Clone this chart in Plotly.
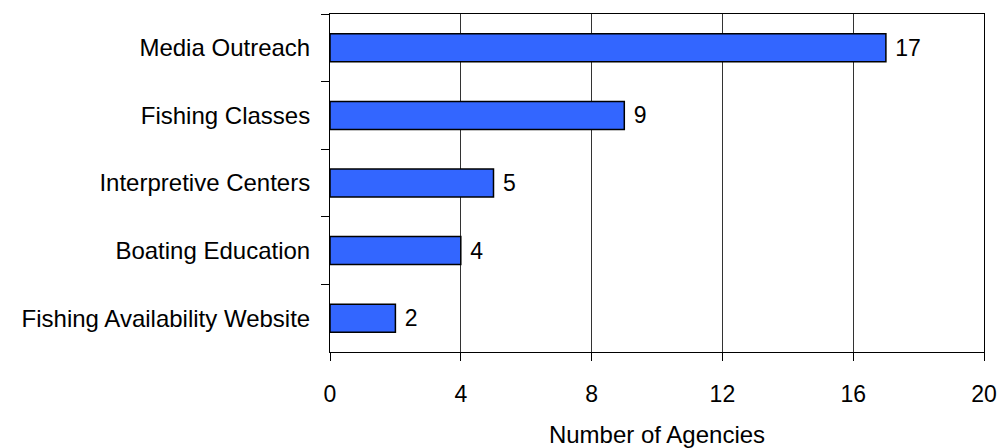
import plotly.graph_objects as go

categories = ["Media Outreach", "Fishing Classes", "Interpretive Centers",
              "Boating Education", "Fishing Availability Website"]
agencies = [17, 9, 5, 4, 2]
x_ticks = [0, 4, 8, 12, 16, 20]
x_title = "Number of Agencies"

FONT = "Liberation Sans, Arial, sans-serif"
FS = 24

fig = go.Figure(go.Bar(
    x=agencies,
    y=categories,
    orientation="h",
    marker=dict(color="#3366FF", line=dict(color="black", width=1.5)),
    text=agencies,
    texttemplate=" %{x}",
    textposition="outside",
    textfont=dict(family=FONT, size=FS - 1, color="black"),
    cliponaxis=False,
))

fig.update_layout(
    width=1001, height=448,
    margin=dict(l=330, r=17, t=14, b=96, autoexpand=False),
    paper_bgcolor="white", plot_bgcolor="white",
    bargap=0.586,
    showlegend=False,
    font=dict(family=FONT, size=FS, color="black"),
)

fig.update_xaxes(
    range=[0, 20],
    tickvals=x_ticks,
    ticktext=[str(v) for v in x_ticks],
    ticks="outside", ticklen=8, tickcolor="black", tickwidth=1,
    showline=True, linecolor="black", linewidth=1, mirror=True,
    showgrid=True, gridcolor="#333333", gridwidth=1,
    zeroline=False,
    automargin=False,
    tickfont=dict(family=FONT, size=FS - 1, color="black"),
    ticklabelstandoff=13,
    title=dict(text=x_title, font=dict(family=FONT, size=FS, color="black"), standoff=22),
)

fig.update_yaxes(
    autorange="reversed",
    ticks="outside", ticklen=8, tickcolor="black", tickwidth=1,
    tickson="boundaries",
    showline=True, linecolor="black", linewidth=1, mirror=True,
    showgrid=False,
    automargin=False,
    tickfont=dict(family=FONT, size=FS, color="black"),
    ticklabelstandoff=14,
)

fig.write_html("out.html")
